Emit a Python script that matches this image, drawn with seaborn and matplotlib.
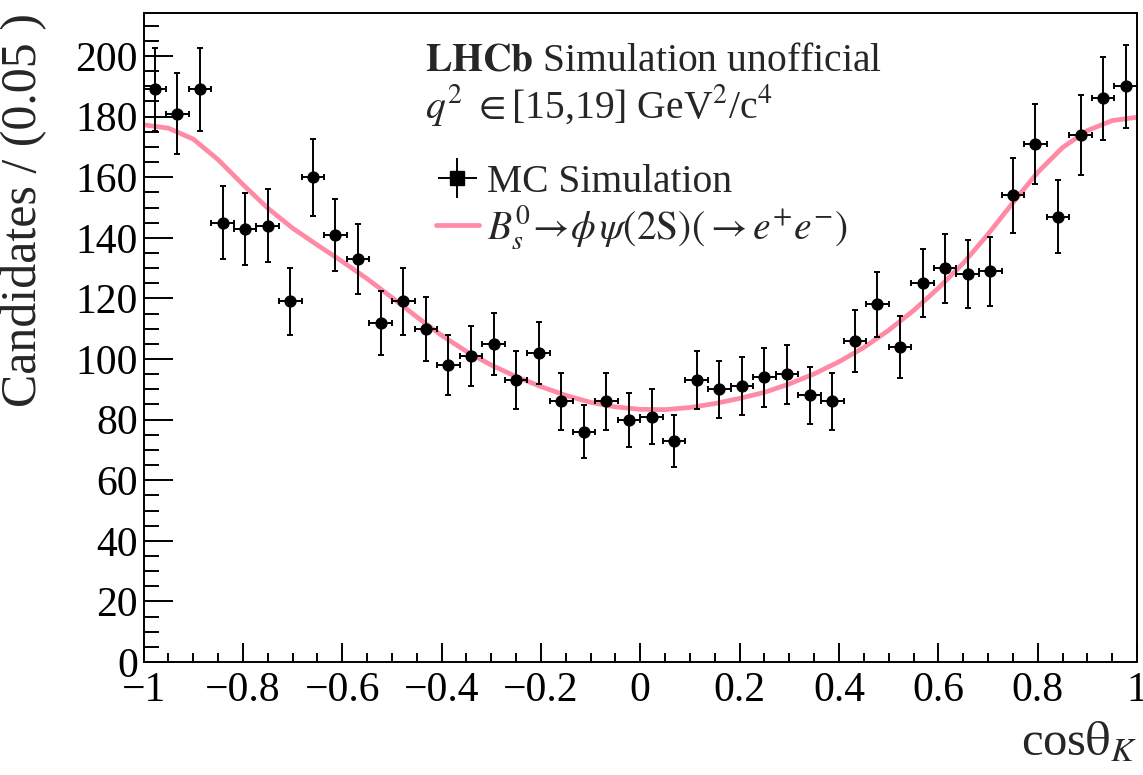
import numpy as np
import matplotlib
matplotlib.use("Agg")
import matplotlib.pyplot as plt
import seaborn as sns
from matplotlib.ticker import MultipleLocator

# MC simulation histogram: 44 bins on [-1, 1]
n_bins = 44
counts = [189, 181, 189, 145, 143, 144, 119, 160, 141, 133, 112,
          119, 110, 98, 101, 105, 93, 102, 86, 76, 86, 80,
          81, 73, 93, 90, 91, 94, 95, 88, 86, 106, 118,
          104, 125, 130, 128, 129, 154, 171, 147, 174, 186, 190]

# fitted PDF, every 0.05
curve_x = np.linspace(-1.0, 1.0, 41)
curve_y = [177.3, 176.2, 172.6, 165.8, 157.6, 149.8, 143.2, 137.6, 132.2, 126.5,
           120.3, 113.9, 107.8, 102.5, 98.0, 94.2, 90.9, 88.0, 85.7, 84.2,
           83.4, 83.3, 84.0, 85.3, 87.0, 89.0, 91.8, 95.1, 99.1, 103.8,
           109.5, 116.0, 123.4, 131.6, 141.2, 151.6, 161.6, 169.8, 175.4, 178.7,
           179.8]

edges = np.linspace(-1.0, 1.0, n_bins + 1)
centers = 0.5 * (edges[:-1] + edges[1:])
half_width = 0.5 * (edges[1] - edges[0])
errors = np.sqrt(counts)

sns.set_style("ticks")
plt.rcParams['font.family'] = ['Liberation Serif', 'DejaVu Serif']
plt.rcParams['mathtext.fontset'] = 'stix'
plt.rcParams['axes.unicode_minus'] = True

fig = plt.figure(figsize=(11.43, 7.75), dpi=100)
ax = fig.add_axes([0.1256, 0.1458, 0.8692, 0.8374])

pink = '#ff8aa6'
sns.lineplot(x=curve_x, y=curve_y, ax=ax, color=pink, linewidth=3.4, zorder=2)
ax.errorbar(centers, counts, xerr=half_width, yerr=errors, fmt='o', color='black',
            markersize=7.8, elinewidth=1.4, capsize=2.5, capthick=1.4, zorder=3)

# legend proxies
mc_handle = ax.errorbar([], [], xerr=[], yerr=[], fmt='s', color='black', markersize=10,
                        elinewidth=1.4, capsize=0, label='MC Simulation')
pdf_handle, = ax.plot([], [], color=pink, linewidth=3.4,
                      label=r'$B_s^{0}\!\rightarrow\!\phi\,\psi(2\mathrm{S})(\rightarrow e^{+}e^{-})$')
ax.legend(handles=[mc_handle, pdf_handle], loc='upper left', bbox_to_anchor=(0.278, 0.792),
          frameon=False, fontsize=28.5, handlelength=1.1, handletextpad=0.2,
          borderaxespad=0, labelspacing=0.05)

ax.text(0.283, 0.955, r'$\mathbf{LHCb}$ Simulation unofficial', transform=ax.transAxes,
        fontsize=28.5, va='top', ha='left')
ax.text(0.283, 0.893, r'$q^2$ $\in$[15,19] GeV$^2$/c$^4$', transform=ax.transAxes,
        fontsize=28.5, va='top', ha='left')

ax.set_xlim(-1, 1)
ax.set_ylim(0, 214.2)
ax.xaxis.set_major_locator(MultipleLocator(0.2))
ax.xaxis.set_minor_locator(MultipleLocator(0.05))
ax.yaxis.set_major_locator(MultipleLocator(20))
ax.yaxis.set_minor_locator(MultipleLocator(5))


def fmt_x(v, pos):
    v = round(v, 2)
    if v == 0:
        return "0"
    return f"{v:g}".replace('-', '\u2212')


ax.xaxis.set_major_formatter(plt.FuncFormatter(fmt_x))

ax.tick_params(axis='both', which='both', direction='in', width=1.4, labelsize=30,
               top=False, right=False, colors='black')
ax.tick_params(axis='y', which='major', length=21, pad=4)
ax.tick_params(axis='y', which='minor', length=10.8)
ax.tick_params(axis='x', which='major', length=13.7, pad=7)
ax.tick_params(axis='x', which='minor', length=6.5)
for s in ax.spines.values():
    s.set_linewidth(1.4)
    s.set_color('black')

ax.set_ylabel('Candidates / (0.05 )', fontsize=36, loc='top')
ax.yaxis.set_label_coords(-0.097, 1.0)
ax.set_xlabel(r'cos$\mathrm{\theta}_{K}$', fontsize=35, loc='right')
ax.xaxis.set_label_coords(1.0, -0.09)

fig.savefig('out.png', dpi=100)
